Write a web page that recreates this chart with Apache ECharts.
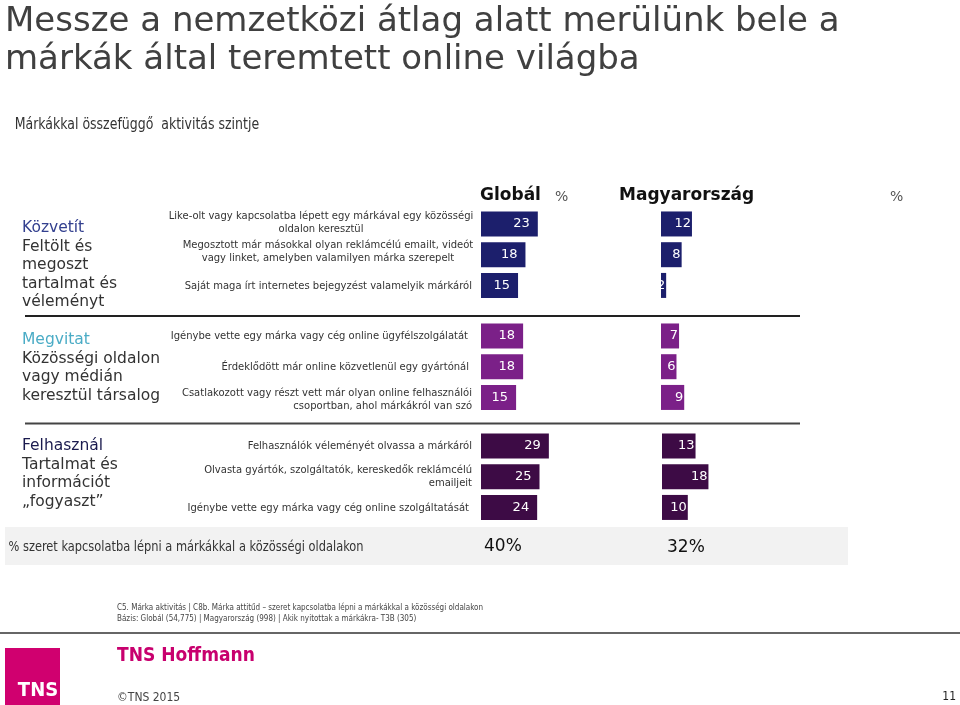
<!DOCTYPE html>
<html>
<head>
<meta charset="utf-8">
<script src="https://cdn.jsdelivr.net/npm/echarts@6/dist/echarts.min.js"></script>
<style>html,body{margin:0;padding:0;background:#fff}#c{width:960px;height:705px}</style>
</head>
<body>
<div id="c"></div>
<script>
// ---- DATA ----
const sectionTitles = ['Közvetít', 'Megvitat', 'Felhasznál'];
const sectionSubtitles = [
  'Feltölt és\nmegoszt\ntartalmat és\nvéleményt',
  'Közösségi oldalon\nvagy médián\nkeresztül társalog',
  'Tartalmat és\ninformációt\n„fogyaszt”'
];
const rowLabels1 = [
  'Like-olt vagy kapcsolatba lépett egy márkával egy közösségi\noldalon keresztül',
  'Megosztott már másokkal olyan reklámcélú emailt, videót\nvagy linket, amelyben valamilyen márka szerepelt',
  'Saját maga írt internetes bejegyzést valamelyik márkáról'
];
const rowLabels2 = [
  'Igénybe vette egy márka vagy cég online ügyfélszolgálatát',
  'Érdeklődött már online közvetlenül egy gyártónál',
  'Csatlakozott vagy részt vett már olyan online felhasználói\ncsoportban, ahol márkákról van szó'
];
const rowLabels3 = [
  'Felhasználók véleményét olvassa a márkáról',
  'Olvasta gyártók, szolgáltatók, kereskedők reklámcélú\nemailjeit',
  'Igénybe vette egy márka vagy cég online szolgáltatását'
];
const globalValues1 = [23, 18, 15];
const globalValues2 = [18, 18, 15];
const globalValues3 = [29, 25, 24];
const huValues1 = [12, 8, 2];
const huValues2 = [7, 6, 9];
const huValues3 = [13, 18, 10];
const seriesNames = ['Globál', 'Magyarország'];
const summaryLabel = '% szeret kapcsolatba lépni a márkákkal a közösségi oldalakon';
const summaryValues = ['40%', '32%'];

// ---- BUILD ----
const rowLabels = [rowLabels1, rowLabels2, rowLabels3];
const gVals = [globalValues1, globalValues2, globalValues3];
const hVals = [huValues1, huValues2, huValues3];
const barColors = ['#1c1f6c', '#7b2088', '#3d0b45'];
const titleColors = ['#33408f', '#4bacc6', '#1a1a4e'];
const gridTops = [208.6, 320.6, 430.6];
const gridH = 92.2;
const gWidths = [98.8, 93.6, 93.6];
const F = 'DejaVu Sans, Verdana, sans-serif';
const FC = '"DejaVu Sans Condensed", "Liberation Sans Narrow", sans-serif';

const grids = [], xAxes = [], yAxes = [], series = [];
for (let s = 0; s < 3; s++) {
  const cats = rowLabels[s].map((_, i) => 'r' + s + i);
  [[481, gWidths[s], gVals[s], 8, seriesNames[0]], [661 + (s === 2 ? 1 : 0), 103.2, hVals[s], 1, seriesNames[1]]].forEach((cfg, k) => {
    const idx = grids.length;
    grids.push({left: cfg[0], top: gridTops[s], width: cfg[1], height: gridH});
    xAxes.push({type: 'value', gridIndex: idx, min: 0, max: 40, show: false});
    yAxes.push({type: 'category', gridIndex: idx, data: cats, inverse: true, show: false});
    series.push({
      type: 'bar', name: cfg[4], xAxisIndex: idx, yAxisIndex: idx, data: cfg[2],
      barWidth: 25, itemStyle: {color: barColors[s]},
      silent: true,
      label: {show: true, position: 'insideRight', distance: cfg[3], color: '#fff', fontSize: 13, fontFamily: F}
    });
  });
}

const g = [];
// title
g.push({type: 'text', x: 5, y: 41, style: {text: 'Messze a nemzetközi átlag alatt merülünk bele a\nmárkák által teremtett online világba', font: '34px ' + F, fill: '#404040', lineHeight: 38, verticalAlign: 'middle'}});
g.push({type: 'text', x: 13, y: 125, scaleX: 0.87, originX: 13, style: {text: 'Márkákkal összefüggő  aktivitás szintje', font: '16px ' + FC, fill: '#333', verticalAlign: 'middle'}});
// headers
g.push({type: 'text', x: 480, y: 196, style: {text: seriesNames[0], font: 'bold 17px ' + F, fill: '#111', verticalAlign: 'middle'}});
g.push({type: 'text', x: 555, y: 197, style: {text: '%', font: '14px ' + F, fill: '#555', verticalAlign: 'middle'}});
g.push({type: 'text', x: 619, y: 196, style: {text: seriesNames[1], font: 'bold 17px ' + F, fill: '#111', verticalAlign: 'middle'}});
g.push({type: 'text', x: 890, y: 197, style: {text: '%', font: '14px ' + F, fill: '#555', verticalAlign: 'middle'}});
// section titles
const secY = [228, 340, 446];
for (let s = 0; s < 3; s++) {
  g.push({type: 'text', x: 22, y: secY[s], style: {text: sectionTitles[s], font: '15.5px ' + F, fill: titleColors[s], verticalAlign: 'middle'}});
  g.push({type: 'text', x: 22, y: secY[s] + 9.25, style: {text: sectionSubtitles[s], font: '15.5px ' + F, fill: '#333', verticalAlign: 'top', lineHeight: 18.5}});
}
// row labels
const rowY = [[223, 252, 286], [336, 367, 400], [446, 477, 508]];
const rowAlign = [['center', 'center', 'right'], ['right', 'right', 'right'], ['right', 'right', 'right']];
const rowX = [[321, 328, 472], [468, 469, 472], [472, 472, 469]];
for (let s = 0; s < 3; s++) {
  for (let i = 0; i < 3; i++) {
    g.push({type: 'text', x: rowX[s][i], y: rowY[s][i], style: {text: rowLabels[s][i], font: '10px ' + F, fill: '#333', align: rowAlign[s][i], verticalAlign: 'middle', lineHeight: 13}});
  }
}
// separators
g.push({type: 'line', shape: {x1: 25, y1: 316, x2: 800, y2: 316}, style: {stroke: '#222', lineWidth: 2}});
g.push({type: 'line', shape: {x1: 25, y1: 423.5, x2: 800, y2: 423.5}, style: {stroke: '#444', lineWidth: 2}});
// summary band
g.push({type: 'rect', shape: {x: 5, y: 527, width: 843, height: 38}, style: {fill: '#f2f2f2'}, z: -1});
g.push({type: 'text', x: 8, y: 547, scaleX: 0.94, originX: 8, style: {text: summaryLabel, font: '13.5px ' + FC, fill: '#333', verticalAlign: 'middle'}});
g.push({type: 'text', x: 484, y: 547, style: {text: summaryValues[0], font: '17px ' + F, fill: '#111', verticalAlign: 'middle'}});
g.push({type: 'text', x: 667, y: 548, style: {text: summaryValues[1], font: '17px ' + F, fill: '#111', verticalAlign: 'middle'}});
// footnotes
g.push({type: 'text', x: 117, y: 608, style: {text: 'C5. Márka aktivitás | C8b. Márka attitűd – szeret kapcsolatba lépni a márkákkal a közösségi oldalakon', font: '8px ' + FC, fill: '#444', verticalAlign: 'middle'}});
g.push({type: 'text', x: 117, y: 619, style: {text: 'Bázis: Globál (54,775) | Magyarország (998) | Akik nyitottak a márkákra- T3B (305)', font: '8px ' + FC, fill: '#444', verticalAlign: 'middle'}});
g.push({type: 'line', shape: {x1: 0, y1: 633, x2: 960, y2: 633}, style: {stroke: '#666', lineWidth: 2}});
// footer
g.push({type: 'rect', shape: {x: 5, y: 648, width: 55, height: 57}, style: {fill: '#d0006f'}});
g.push({type: 'text', x: 38, y: 691, style: {text: 'TNS', font: 'bold 20px ' + FC, fill: '#fff', align: 'center', verticalAlign: 'middle'}});
g.push({type: 'text', x: 117, y: 656, style: {text: 'TNS Hoffmann', font: 'bold 19px ' + FC, fill: '#c8006e', verticalAlign: 'middle'}});
g.push({type: 'text', x: 117, y: 698, style: {text: '©TNS 2015', font: '12px ' + FC, fill: '#444', verticalAlign: 'middle'}});
g.push({type: 'text', x: 956, y: 697, style: {text: '11', font: '12px ' + FC, fill: '#222', align: 'right', verticalAlign: 'middle'}});

const chart = echarts.init(document.getElementById('c'), null, {renderer: 'canvas'});
chart.setOption({
  animation: false,
  backgroundColor: '#fff',
  grid: grids, xAxis: xAxes, yAxis: yAxes, series: series,
  graphic: g
});
</script>
</body>
</html>
